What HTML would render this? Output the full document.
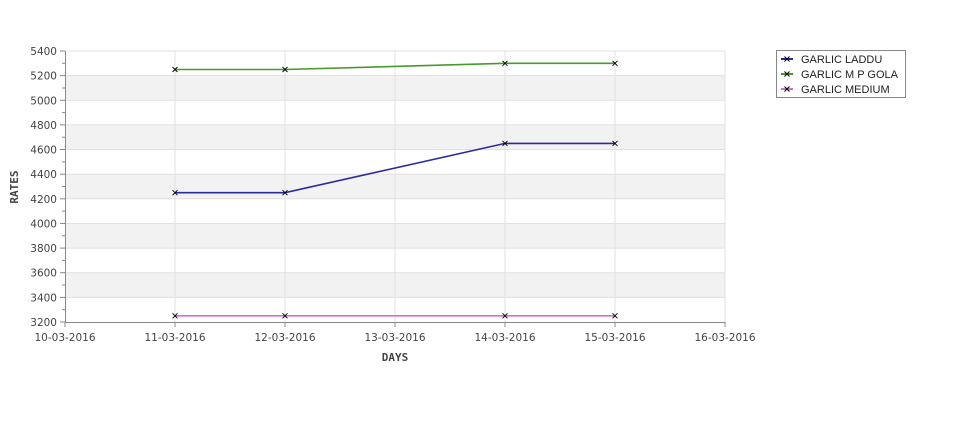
<!DOCTYPE html>
<html><head><style>body{margin:0;background:#fff}svg{display:block;font-family:"DejaVu Sans","Liberation Sans",sans-serif}</style></head><body>
<svg width="975" height="429" viewBox="0 0 975 429">
<g fill="#f2f2f2">
<rect x="65" y="75.6" width="660" height="24.6"/>
<rect x="65" y="124.9" width="660" height="24.6"/>
<rect x="65" y="174.2" width="660" height="24.6"/>
<rect x="65" y="223.5" width="660" height="24.6"/>
<rect x="65" y="272.7" width="660" height="24.6"/>
</g>
<g stroke="#e0e0e0" stroke-width="1">
<line x1="65" x2="725" y1="51" y2="51"/><line x1="65" x2="725" y1="75.6" y2="75.6"/><line x1="65" x2="725" y1="100.3" y2="100.3"/><line x1="65" x2="725" y1="124.9" y2="124.9"/><line x1="65" x2="725" y1="149.5" y2="149.5"/><line x1="65" x2="725" y1="174.2" y2="174.2"/><line x1="65" x2="725" y1="198.8" y2="198.8"/><line x1="65" x2="725" y1="223.5" y2="223.5"/><line x1="65" x2="725" y1="248.1" y2="248.1"/><line x1="65" x2="725" y1="272.7" y2="272.7"/><line x1="65" x2="725" y1="297.4" y2="297.4"/>
<line x1="175" x2="175" y1="51" y2="322"/><line x1="285" x2="285" y1="51" y2="322"/><line x1="395" x2="395" y1="51" y2="322"/><line x1="505" x2="505" y1="51" y2="322"/><line x1="615" x2="615" y1="51" y2="322"/><line x1="725" x2="725" y1="51" y2="322"/>
</g>
<g stroke="#888" stroke-width="1">
<line x1="65.5" x2="65.5" y1="51" y2="322"/><line x1="65" x2="725" y1="322.5" y2="322.5"/>
</g>
<g stroke="#888">
<line x1="60" x2="65" y1="51" y2="51"/><line x1="60" x2="65" y1="75.6" y2="75.6"/><line x1="60" x2="65" y1="100.3" y2="100.3"/><line x1="60" x2="65" y1="124.9" y2="124.9"/><line x1="60" x2="65" y1="149.5" y2="149.5"/><line x1="60" x2="65" y1="174.2" y2="174.2"/><line x1="60" x2="65" y1="198.8" y2="198.8"/><line x1="60" x2="65" y1="223.5" y2="223.5"/><line x1="60" x2="65" y1="248.1" y2="248.1"/><line x1="60" x2="65" y1="272.7" y2="272.7"/><line x1="60" x2="65" y1="297.4" y2="297.4"/><line x1="60" x2="65" y1="322" y2="322"/>
<line x1="62" x2="65" y1="63.3" y2="63.3"/><line x1="62" x2="65" y1="88" y2="88"/><line x1="62" x2="65" y1="112.6" y2="112.6"/><line x1="62" x2="65" y1="137.2" y2="137.2"/><line x1="62" x2="65" y1="161.9" y2="161.9"/><line x1="62" x2="65" y1="186.5" y2="186.5"/><line x1="62" x2="65" y1="211.1" y2="211.1"/><line x1="62" x2="65" y1="235.8" y2="235.8"/><line x1="62" x2="65" y1="260.4" y2="260.4"/><line x1="62" x2="65" y1="285" y2="285"/><line x1="62" x2="65" y1="309.7" y2="309.7"/>
<line x1="65" x2="65" y1="322" y2="327"/><line x1="175" x2="175" y1="322" y2="327"/><line x1="285" x2="285" y1="322" y2="327"/><line x1="395" x2="395" y1="322" y2="327"/><line x1="505" x2="505" y1="322" y2="327"/><line x1="615" x2="615" y1="322" y2="327"/><line x1="725" x2="725" y1="322" y2="327"/>
</g>
<g font-size="10.5" fill="#444" text-anchor="end">
<text x="57" y="55">5400</text><text x="57" y="79.6">5200</text><text x="57" y="104.3">5000</text><text x="57" y="128.9">4800</text><text x="57" y="153.5">4600</text><text x="57" y="178.2">4400</text><text x="57" y="202.8">4200</text><text x="57" y="227.5">4000</text><text x="57" y="252.1">3800</text><text x="57" y="276.7">3600</text><text x="57" y="301.4">3400</text><text x="57" y="326">3200</text>
</g>
<g font-size="10.5" fill="#444" text-anchor="middle">
<text x="65" y="341">10-03-2016</text><text x="175" y="341">11-03-2016</text><text x="285" y="341">12-03-2016</text><text x="395" y="341">13-03-2016</text><text x="505" y="341">14-03-2016</text><text x="615" y="341">15-03-2016</text><text x="725" y="341">16-03-2016</text>
</g>
<text x="395" y="361" font-size="11" font-weight="bold" fill="#444" text-anchor="middle" font-family="DejaVu Sans Mono, monospace">DAYS</text>
<text transform="translate(18,187) rotate(-90)" font-size="11" font-weight="bold" fill="#444" text-anchor="middle" font-family="DejaVu Sans Mono, monospace">RATES</text>
<polyline fill="none" stroke="#4a9a2a" stroke-width="1.6" points="175,69.5 285,69.5 505,63.3 615,63.3"/>
<polyline fill="none" stroke="#2a2aa0" stroke-width="1.6" points="175,192.7 285,192.7 505,143.4 615,143.4"/>
<polyline fill="none" stroke="#d070d0" stroke-width="1.6" points="175,315.8 285,315.8 505,315.8 615,315.8"/>
<g stroke="#000" stroke-width="0.9">
<path d="M172.5,67l5,5m0,-5l-5,5M282.5,67l5,5m0,-5l-5,5M502.5,60.8l5,5m0,-5l-5,5M612.5,60.8l5,5m0,-5l-5,5"/>
<path d="M172.5,190.2l5,5m0,-5l-5,5M282.5,190.2l5,5m0,-5l-5,5M502.5,140.9l5,5m0,-5l-5,5M612.5,140.9l5,5m0,-5l-5,5"/>
<path d="M172.5,313.3l5,5m0,-5l-5,5M282.5,313.3l5,5m0,-5l-5,5M502.5,313.3l5,5m0,-5l-5,5M612.5,313.3l5,5m0,-5l-5,5"/>
</g>
<rect x="776.5" y="50.5" width="129" height="47" fill="#fff" stroke="#888"/>
<line x1="781" x2="793" y1="59" y2="59" stroke="#2a2aa0" stroke-width="2"/>
<line x1="781" x2="793" y1="74" y2="74" stroke="#4a9a2a" stroke-width="2"/>
<line x1="781" x2="793" y1="89" y2="89" stroke="#d070d0" stroke-width="2"/>
<path d="M784.5,56.5l5,5m0,-5l-5,5M784.5,71.5l5,5m0,-5l-5,5M784.5,86.5l5,5m0,-5l-5,5" stroke="#000"/>
<g font-size="11" fill="#222" font-family="Liberation Sans, sans-serif"><text x="801" y="63">GARLIC LADDU</text><text x="801" y="78">GARLIC M P GOLA</text><text x="801" y="93">GARLIC MEDIUM</text></g>
</svg>
</body></html>
